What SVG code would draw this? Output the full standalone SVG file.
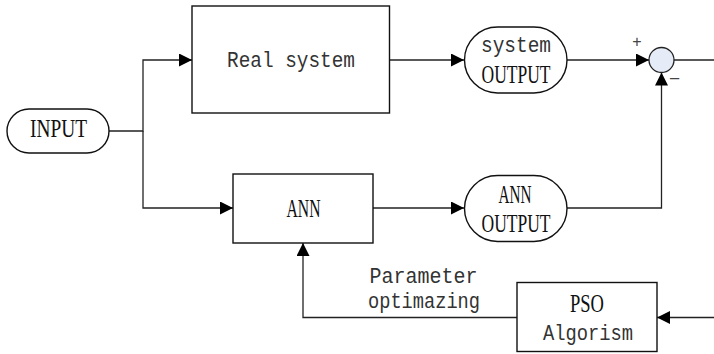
<svg xmlns="http://www.w3.org/2000/svg" width="714" height="354" viewBox="0 0 714 354">
<style>
.box{fill:#fff;stroke:#111;stroke-width:1.4}
.con{fill:none;stroke:#222;stroke-width:1.3}
.up{font-family:"Liberation Serif",serif;font-size:25px;fill:#111;text-anchor:middle}
.mono{font-family:"Liberation Mono",monospace;font-size:22px;fill:#333;text-anchor:middle}
.sign{font-family:"Liberation Sans",sans-serif;font-size:16px;fill:#444;text-anchor:middle}
</style>
<defs>
<marker id="arr" markerUnits="userSpaceOnUse" markerWidth="14" markerHeight="14" refX="13" refY="6.5" orient="auto">
<path d="M0,0 L13,6.5 L0,13 Z" fill="#000"/>
</marker>
</defs>
<g id="connectors">
<path class="con" d="M109,131 H143 V60 H192" marker-end="url(#arr)"/>
<path class="con" d="M143,131 V208 H233" marker-end="url(#arr)"/>
<path class="con" d="M389.5,60 H464" marker-end="url(#arr)"/>
<path class="con" d="M567,60 H649" marker-end="url(#arr)"/>
<path class="con" d="M674,60 H714"/>
<path class="con" d="M373,208 H464" marker-end="url(#arr)"/>
<path class="con" d="M567,208 H661.5 V72.5" marker-end="url(#arr)"/>
<path class="con" d="M714,317.5 H657" marker-end="url(#arr)"/>
<path class="con" d="M517,317.5 H303 V243" marker-end="url(#arr)"/>
</g>
<g id="input">
<rect class="box" x="7" y="109" width="102" height="44" rx="22"/>
<text class="up" x="58.5" y="137" textLength="57" lengthAdjust="spacingAndGlyphs">INPUT</text>
</g>
<g id="real-system">
<rect class="box" x="192" y="6" width="197.5" height="107"/>
<text class="mono" x="291" y="67" textLength="128" lengthAdjust="spacingAndGlyphs">Real system</text>
</g>
<g id="system-output">
<rect class="box" x="464.5" y="27" width="102.5" height="66" rx="33"/>
<text class="mono" x="516" y="52" textLength="70" lengthAdjust="spacingAndGlyphs">system</text>
<text class="up" x="516" y="83" textLength="69" lengthAdjust="spacingAndGlyphs">OUTPUT</text>
</g>
<g id="sum">
<circle cx="661.5" cy="60" r="12.5" fill="#e6ecf7" stroke="#222" stroke-width="1.3"/>
<text class="sign" x="637" y="47">+</text>
<text class="sign" x="674.5" y="85" style="font-size:19px">−</text>
</g>
<g id="ann">
<rect class="box" x="233" y="174" width="140" height="69"/>
<text class="up" x="303.5" y="216.5" textLength="34" lengthAdjust="spacingAndGlyphs">ANN</text>
</g>
<g id="ann-output">
<rect class="box" x="464.5" y="175.5" width="102.5" height="66" rx="33"/>
<text class="up" x="515" y="203" textLength="33" lengthAdjust="spacingAndGlyphs">ANN</text>
<text class="up" x="516" y="231.5" textLength="69" lengthAdjust="spacingAndGlyphs">OUTPUT</text>
</g>
<g id="pso">
<rect class="box" x="517" y="282.5" width="140" height="69"/>
<text class="up" x="587" y="311.5" textLength="34" lengthAdjust="spacingAndGlyphs">PSO</text>
<text class="mono" x="588" y="340" textLength="90" lengthAdjust="spacingAndGlyphs">Algorism</text>
</g>
<g id="param-label">
<text class="mono" x="423.5" y="283" textLength="108" lengthAdjust="spacingAndGlyphs">Parameter</text>
<text class="mono" x="424" y="308" textLength="112" lengthAdjust="spacingAndGlyphs">optimazing</text>
</g>
</svg>
